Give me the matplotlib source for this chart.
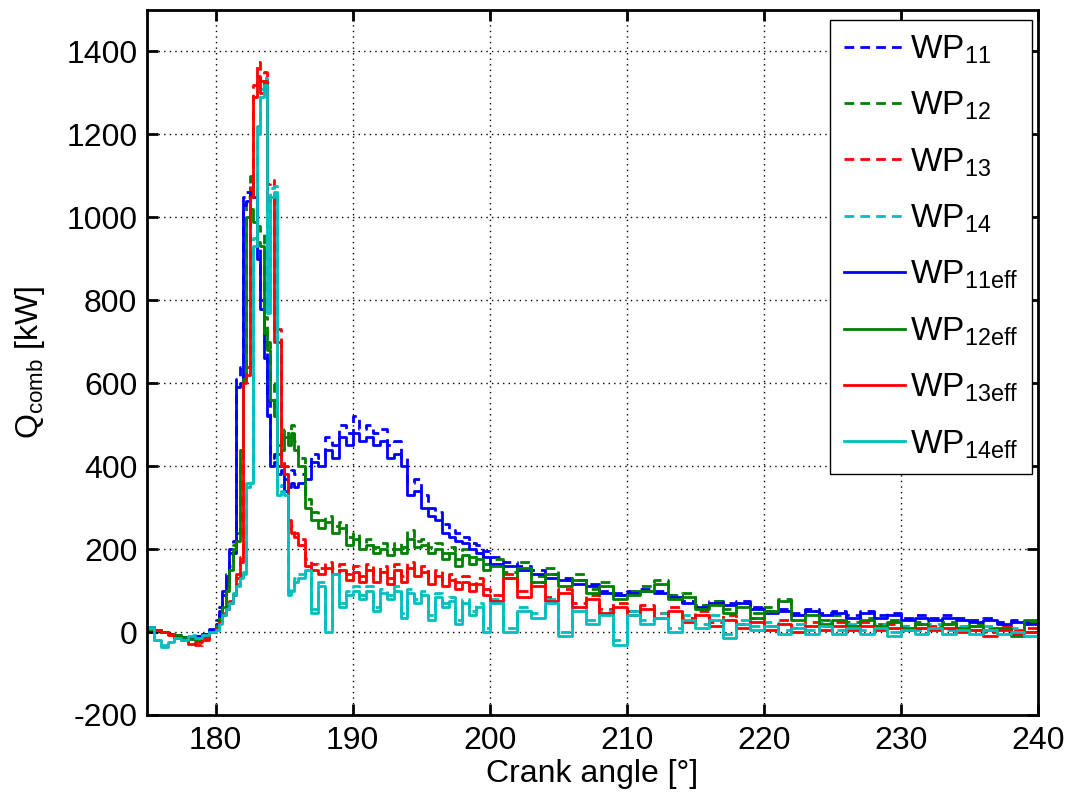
import numpy as np
import matplotlib
matplotlib.use('Agg')
import matplotlib.pyplot as plt

plt.rcParams['font.family'] = ['Liberation Sans', 'DejaVu Sans']
plt.rcParams['mathtext.fontset'] = 'custom'
plt.rcParams['mathtext.rm'] = 'Liberation Sans'
plt.rcParams['mathtext.it'] = 'Liberation Sans:italic'
plt.rcParams['mathtext.default'] = 'regular'
plt.rcParams['axes.unicode_minus'] = False

# crank angle samples [deg]
crank = np.concatenate([np.arange(175.0, 180.0, 0.5),
                        np.arange(180.0, 186.0, 0.25),
                        np.arange(186.0, 200.0, 0.5),
                        np.arange(200.0, 241.0, 1.0)])

# Q_comb [kW]
wp11 = [12, 6, 0, -6, -10, -12, -12, -10, -4, 8,
        30, 60, 100, 140, 200, 220, 610, 640, 1050, 1060, 1090, 1070, 930, 800,
        700, 560, 420, 430, 400, 410, 370, 380, 390, 380,
        380, 400, 430, 420, 470, 450, 500, 480, 520, 490, 500, 480, 490, 450,
        460, 420, 360, 370, 330, 300, 290, 260, 245, 240, 230, 215, 210, 195,
        180, 170, 160, 150, 140, 130, 125, 115, 100, 95, 100, 105, 100, 90,
        75, 65, 75, 70, 75, 60, 50, 55, 45, 55, 45, 50, 40, 50, 40, 45,
        35, 40, 35, 40, 35, 30, 35, 25, 30, 25, 25]
wp12 = [10, 5, 0, -5, -8, -12, -14, -16, -12, 2,
        20, 40, 70, 110, 160, 210, 240, 440, 620, 1050, 1100, 1060, 980, 960,
        760, 700, 600, 540, 450, 460, 490, 470, 500, 460,
        420, 320, 290, 270, 280, 255, 265, 230, 240, 215, 225, 205, 215, 200,
        215, 205, 245, 220, 225, 205, 215, 190, 205, 175, 200, 180, 190, 165,
        175, 145, 170, 135, 155, 125, 140, 105, 120, 90, 100, 110, 125, 90,
        95, 65, 75, 55, 70, 45, 60, 80, 40, 50, 30, 40, 25, 35, 20, 30,
        15, 25, 15, 25, 15, 20, 10, 15, -5, 25, 15]
wp13 = [12, 6, 0, -6, -14, -20, -25, -32, -18, 2,
        12, 30, 45, 60, 75, 95, 140, 180, 610, 640, 1080, 1320, 1375, 1330,
        1350, 1080, 1090, 720, 730, 420, 400, 270, 255, 240,
        225, 175, 165, 155, 170, 155, 165, 140, 160, 135, 165, 135, 160, 130,
        165, 135, 170, 150, 160, 130, 150, 125, 140, 120, 135, 115, 130, 105,
        90, 140, 100, 120, 85, 105, 70, 90, 55, 70, 50, 65, 45, 60, 35, 50,
        25, 40, 20, 35, 15, 30, 10, 25, 15, 25, 15, 25, 15, 20, 15, 20,
        15, 20, 10, 15, 0, 15, 5, 10, 5]
wp14 = [12, -18, -32, -22, -12, -18, -8, -12, -5, 2,
        8, 25, 45, 60, 75, 95, 115, 135, 145, 360, 370, 950, 1220, 1310,
        1335, 790, 1070, 1075, 345, 355, 345, 100, 110, 130,
        140, 160, 55, 120, 10, 150, 70, 100, 110, 90, 110, 60, 105, 90,
        110, 45, 105, 80, 100, 40, 95, 70, 85, 30, 80, 50, 70, 10,
        80, 10, 60, 45, 80, 0, 60, 30, 50, -20, 50, 30, 45, 10, 40, 20,
        40, -5, 30, 15, 25, 5, 20, 5, 25, 5, 20, 5, 20, 0, 15, 5,
        20, 5, 15, 5, 15, 5, 10, 0, 0]
wp11eff = [10, 5, 0, -5, -10, -12, -12, -10, -5, 5,
           20, 50, 90, 120, 190, 190, 590, 600, 1030, 1040, 1060, 1050, 900, 780,
           660, 520, 400, 410, 380, 390, 340, 350, 360, 350,
           360, 370, 410, 400, 440, 420, 470, 450, 480, 460, 470, 450, 460, 420,
           430, 400, 330, 340, 300, 280, 270, 240, 230, 220, 215, 200, 190, 180,
           165, 160, 150, 140, 130, 125, 115, 110, 95, 90, 95, 100, 95, 85,
           70, 60, 70, 65, 70, 55, 45, 50, 40, 50, 40, 45, 35, 45, 35, 40,
           30, 35, 30, 35, 30, 25, 30, 20, 25, 20, 20]
wp12eff = [8, 4, 0, -4, -8, -12, -16, -18, -14, 0,
           15, 35, 60, 100, 150, 200, 220, 420, 610, 1000, 1020, 990, 940, 930,
           720, 680, 560, 520, 430, 440, 470, 450, 480, 440,
           400, 300, 270, 250, 265, 240, 250, 210, 225, 200, 210, 190, 200, 185,
           200, 190, 225, 205, 210, 190, 200, 175, 190, 160, 185, 165, 175, 150,
           160, 130, 155, 120, 140, 110, 125, 95, 110, 80, 90, 100, 115, 80,
           85, 55, 65, 45, 60, 35, 50, 75, 30, 40, 20, 30, 15, 30, 15, 25,
           10, 20, 10, 20, 10, 15, 5, 10, -10, 30, 20]
wp13eff = [10, 5, 0, -8, -15, -20, -28, -25, -15, 0,
           10, 25, 40, 55, 70, 90, 130, 170, 600, 620, 1050, 1290, 1340, 1300,
           1330, 1040, 1050, 700, 700, 400, 380, 250, 240, 230,
           210, 160, 150, 140, 155, 140, 150, 125, 145, 120, 150, 120, 145, 115,
           150, 120, 155, 135, 145, 115, 135, 110, 125, 105, 120, 100, 115, 90,
           75, 130, 85, 110, 75, 95, 60, 80, 45, 60, 40, 55, 35, 50, 25, 40,
           15, 30, 10, 25, 5, 20, 0, 15, 5, 15, 5, 15, 5, 10, 5, 10,
           5, 10, 0, 5, -10, 5, -5, 0, -5]
wp14eff = [10, -20, -35, -25, -15, -20, -10, -15, -8, 0,
           5, 20, 40, 55, 70, 90, 110, 130, 140, 350, 360, 930, 1200, 1290,
           1320, 770, 1050, 1060, 330, 340, 330, 90, 100, 120,
           130, 150, 45, 110, 0, 140, 60, 90, 100, 80, 100, 50, 95, 80,
           100, 35, 95, 70, 90, 30, 85, 60, 75, 20, 70, 40, 60, 0,
           70, 0, 50, 35, 70, -10, 50, 20, 40, -30, 40, 20, 35, 0, 30, 10,
           30, -15, 20, 5, 15, -5, 10, -5, 15, -5, 10, -5, 10, -10, 5, -5,
           10, -5, 5, -5, 5, -5, 0, -10, -10]

series = [wp11, wp12, wp13, wp14, wp11eff, wp12eff, wp13eff, wp14eff]
labels = ['WP$_{11}$', 'WP$_{12}$', 'WP$_{13}$', 'WP$_{14}$',
          'WP$_{11eff}$', 'WP$_{12eff}$', 'WP$_{13eff}$', 'WP$_{14eff}$']
colors = ['#0000ff', '#008000', '#ff0000', '#00bfbf'] * 2
styles = [(0, (3.5, 2.2))] * 4 + ['-'] * 4

fig = plt.figure(figsize=(10.72, 7.97), dpi=100)
ax = fig.add_axes([147 / 1072, 1 - 715 / 797, 891 / 1072, 705 / 797])

for y, lab, c, ls in zip(series, labels, colors, styles):
    ax.step(crank, y, where='post', color=c, linestyle=ls, linewidth=2.0, label=lab)

ax.set_xlim(175, 240)
ax.set_ylim(-200, 1500)
ax.set_xticks([180, 190, 200, 210, 220, 230, 240])
ax.set_yticks(np.arange(-200, 1401, 200))
ax.grid(True, color='black', linestyle=(0, (1, 3)), linewidth=1.0)
ax.tick_params(direction='in', length=8, width=2, labelsize=23,
               top=True, right=True)
ax.tick_params(axis='x', pad=8)
ax.tick_params(axis='y', pad=7)
for sp in ax.spines.values():
    sp.set_linewidth(2)

ax.set_xlabel('Crank angle [°]', fontsize=23, labelpad=2)
ax.set_ylabel('Q$_{comb}$ [kW]', fontsize=23, labelpad=14)

leg = ax.legend(loc='upper right', bbox_to_anchor=(1032 / 1072, 1 - 20 / 797),
                bbox_transform=fig.transFigure, borderaxespad=0, fontsize=24,
                handlelength=1.85, handletextpad=0.15, labelspacing=0.72,
                borderpad=0.4, fancybox=False, framealpha=1)
leg.get_frame().set_edgecolor('black')
leg.get_frame().set_linewidth(1.0)

fig.savefig('out.png', dpi=100)
